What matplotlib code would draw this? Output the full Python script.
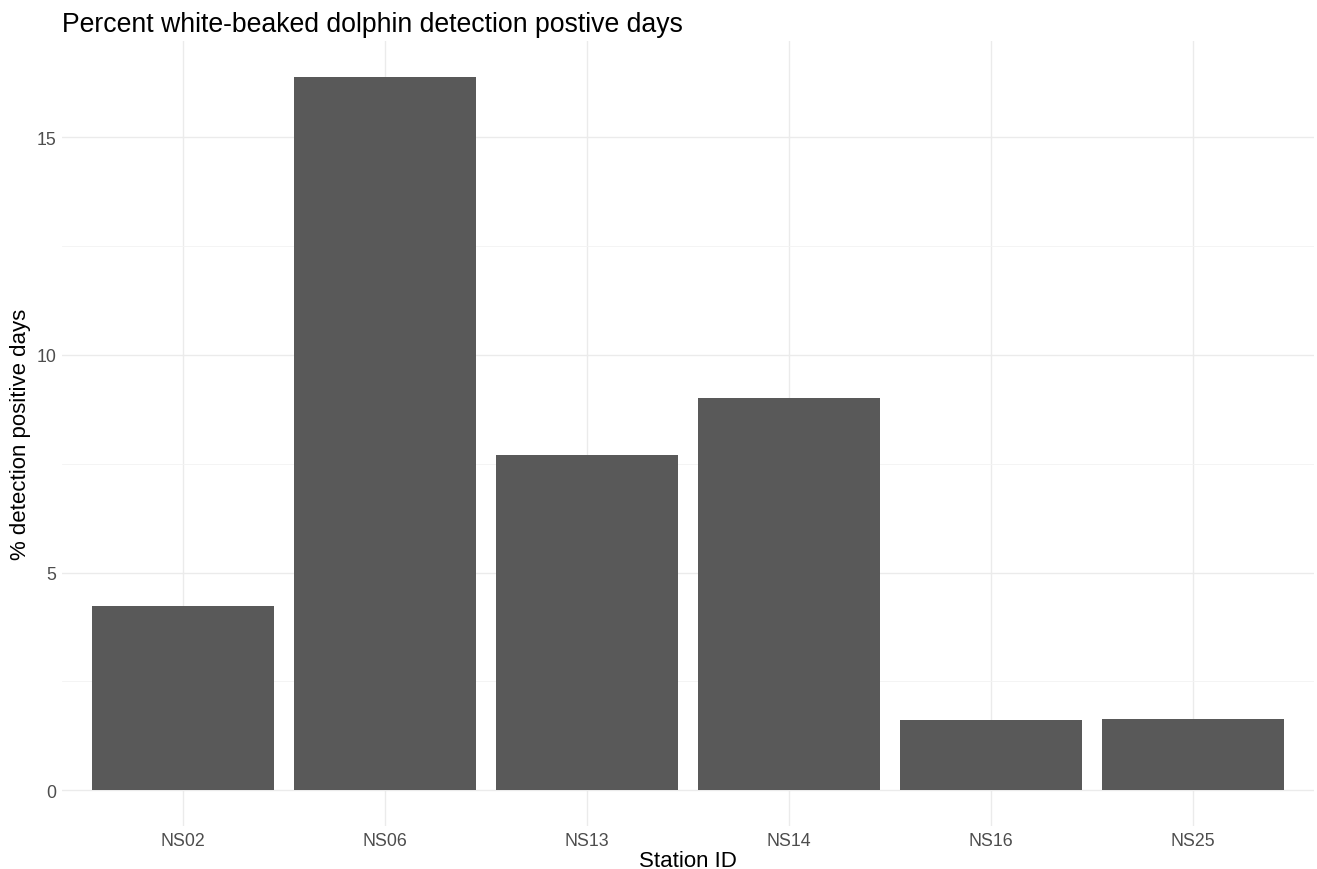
import matplotlib
matplotlib.use("Agg")
import matplotlib.pyplot as plt
from matplotlib.ticker import MultipleLocator

stations = ["NS02", "NS06", "NS13", "NS14", "NS16", "NS25"]
pct_days = [4.23, 16.39, 7.70, 9.01, 1.61, 1.63]

plt.rcParams["font.family"] = ["Liberation Sans", "DejaVu Sans"]

fig = plt.figure(figsize=(13.17, 8.7), dpi=100)
ax = fig.add_axes([62 / 1317, 43 / 870, 1252 / 1317, 785 / 870])

x = list(range(1, len(stations) + 1))
ax.bar(x, pct_days, width=0.9, color="#595959", zorder=2)

ax.set_xlim(0.4, len(stations) + 0.6)
top = max(pct_days)
ax.set_ylim(-0.05 * top, top * 1.05)

ax.set_xticks(x)
ax.set_xticklabels(stations)
ax.yaxis.set_major_locator(MultipleLocator(5))
ax.yaxis.set_minor_locator(MultipleLocator(2.5))

ax.grid(which="major", color="#EBEBEB", linewidth=1.0, zorder=0)
ax.grid(which="minor", axis="y", color="#F3F3F3", linewidth=0.6, zorder=0)
ax.set_axisbelow(True)
for s in ax.spines.values():
    s.set_visible(False)
ax.tick_params(which="both", length=0, labelsize=12.8, labelcolor="#4D4D4D")
ax.tick_params(axis="x", pad=4)
ax.tick_params(axis="y", pad=4)

ax.set_xlabel("Station ID", fontsize=16, labelpad=1)
ax.set_ylabel("% detection positive days", fontsize=16, labelpad=4)
fig.text(62 / 1317, 1 - 32 / 870, "Percent white-beaked dolphin detection postive days",
         fontsize=19.2, ha="left", va="baseline")

fig.savefig("out.png", dpi=100)
